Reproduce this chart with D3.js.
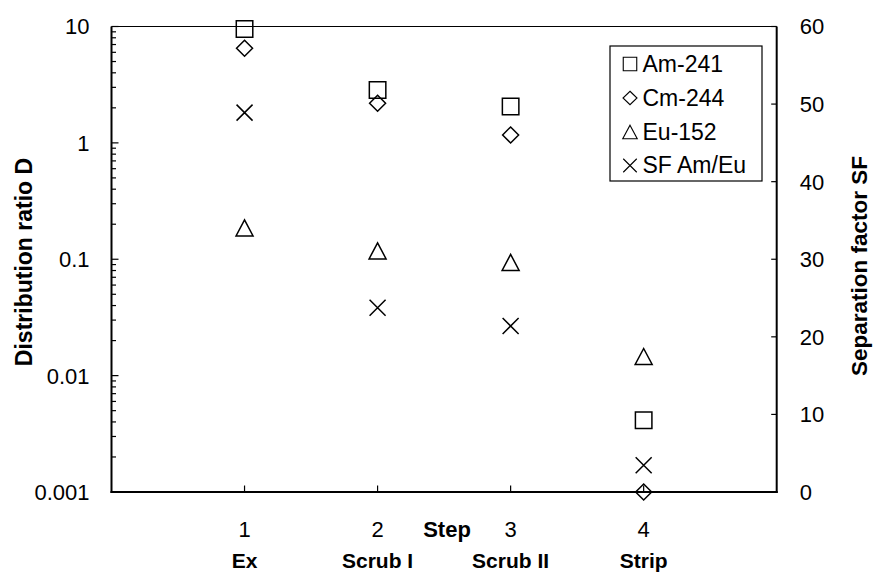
<!DOCTYPE html>
<html><head><meta charset="utf-8">
<script src="https://cdn.jsdelivr.net/npm/d3@7"></script>
<style>
body{margin:0;background:#fff;}
svg text{font-family:"Liberation Sans",Arial,sans-serif;fill:#000;}
</style></head>
<body><svg id="c" width="875" height="574"></svg>
<script>
const steps = [1, 2, 3, 4];
const stepNames = ["Ex", "Scrub I", "Scrub II", "Strip"];
const am241 = [9.5, 2.85, 2.05, 0.00413];
const cm244 = [6.5, 2.19, 1.17, 0.001];
const eu152 = [0.186, 0.118, 0.094, 0.0146];
const sfAmEu = [48.9, 23.75, 21.4, 3.44];
const leftTicks = [0.001, 0.01, 0.1, 1, 10];
const leftTickLabels = ["0.001", "0.01", "0.1", "1", "10"];
const rightTicks = [0, 10, 20, 30, 40, 50, 60];
const legendLabels = ["Am-241", "Cm-244", "Eu-152", "SF Am/Eu"];

const svg = d3.select("#c");
const L = 111.5, R = 776.7, T = 26.5, B = 492;
const x = d3.scaleLinear().domain([0, 5]).range([L, R]);
const yL = d3.scaleLog().domain([0.001, 10]).range([B, T]);
const yR = d3.scaleLinear().domain([0, 60]).range([B, T]);

// top border
svg.append("line").attr("x1", L).attr("x2", R).attr("y1", T).attr("y2", T)
  .attr("stroke", "#000").attr("stroke-width", 1.2);

// left axis: minor ticks
const minor = [];
for (let e = -3; e < 1; e++) for (let m = 2; m <= 9; m++) minor.push(m * Math.pow(10, e));
const gL = svg.append("g").attr("transform", `translate(${L},0)`);
gL.selectAll("line.minor").data(minor).join("line").attr("class", "minor")
  .attr("x1", 0).attr("x2", 4.5).attr("y1", d => yL(d)).attr("y2", d => yL(d))
  .attr("stroke", "#000").attr("stroke-width", 1.2);
gL.selectAll("line.major").data(leftTicks).join("line").attr("class", "major")
  .attr("x1", 0).attr("x2", 7).attr("y1", d => yL(d)).attr("y2", d => yL(d))
  .attr("stroke", "#000").attr("stroke-width", 1.2);
gL.append("line").attr("x1", 0).attr("x2", 0).attr("y1", T).attr("y2", B + 1)
  .attr("stroke", "#000").attr("stroke-width", 2);
gL.selectAll("text").data(leftTicks).join("text")
  .attr("x", -22).attr("y", d => yL(d)).attr("dy", "0.36em")
  .attr("text-anchor", "end").attr("font-size", 22)
  .text((d, i) => leftTickLabels[i]);

// right axis
const gR = svg.append("g").attr("transform", `translate(${R},0)`);
gR.selectAll("line.t").data(rightTicks).join("line").attr("class", "t")
  .attr("x1", 0).attr("x2", -5.5).attr("y1", d => yR(d)).attr("y2", d => yR(d))
  .attr("stroke", "#000").attr("stroke-width", 1.2);
gR.append("line").attr("x1", 0).attr("x2", 0).attr("y1", T).attr("y2", B + 1)
  .attr("stroke", "#000").attr("stroke-width", 2);
gR.selectAll("text").data(rightTicks).join("text")
  .attr("x", 23).attr("y", d => yR(d)).attr("dy", "0.36em")
  .attr("text-anchor", "start").attr("font-size", 22)
  .text(d => d);

// bottom axis
const gB = svg.append("g");
gB.selectAll("line.t").data(steps).join("line").attr("class", "t")
  .attr("x1", d => x(d)).attr("x2", d => x(d)).attr("y1", B).attr("y2", B - 6.5)
  .attr("stroke", "#000").attr("stroke-width", 1.2);
gB.append("line").attr("x1", L - 1).attr("x2", R + 1).attr("y1", B).attr("y2", B)
  .attr("stroke", "#000").attr("stroke-width", 2);
gB.selectAll("text.num").data(steps).join("text").attr("class", "num")
  .attr("x", d => x(d)).attr("y", 537).attr("text-anchor", "middle")
  .attr("font-size", 22).text(d => d);
gB.selectAll("text.cat").data(stepNames).join("text").attr("class", "cat")
  .attr("x", (d, i) => x(steps[i])).attr("y", 568).attr("text-anchor", "middle")
  .attr("font-size", 21).attr("font-weight", "bold").text(d => d);
svg.append("text").attr("x", 447).attr("y", 537).attr("text-anchor", "middle")
  .attr("font-size", 22).attr("font-weight", "bold").text("Step");

// axis titles
svg.append("text").attr("transform", `translate(32,262) rotate(-90)`)
  .attr("text-anchor", "middle").attr("font-size", 23).attr("font-weight", "bold")
  .text("Distribution ratio D");
svg.append("text").attr("transform", `translate(867,266) rotate(-90)`)
  .attr("text-anchor", "middle").attr("font-size", 22.5).attr("font-weight", "bold")
  .text("Separation factor SF");

// marker shapes
function square(s) { const h = s / 2; return `M${-h},${-h}H${h}V${h}H${-h}Z`; }
function diamond(w, h) { return `M0,${-h/2}L${w/2},0L0,${h/2}L${-w/2},0Z`; }
function triangle(w, h) { return `M0,${-h/2}L${w/2},${h/2}H${-w/2}Z`; }
function cross(s) { const h = s / 2; return `M${-h},${-h}L${h},${h}M${-h},${h}L${h},${-h}`; }

const plot = svg.append("g").attr("fill", "none").attr("stroke", "#000").attr("stroke-width", 1.5);
function drawSeries(vals, yScale, path) {
  plot.append("g").selectAll("path").data(vals).join("path")
    .attr("transform", (d, i) => `translate(${x(steps[i])},${yScale(d)})`)
    .attr("d", path);
}
drawSeries(eu152, yL, triangle(17, 16));
drawSeries(am241, yL, square(16.5));
drawSeries(cm244, yL, diamond(16, 16));
drawSeries(sfAmEu, yR, cross(16));

// legend
const lg = svg.append("g");
lg.append("rect").attr("x", 610).attr("y", 46).attr("width", 152).attr("height", 135)
  .attr("fill", "#fff").attr("stroke", "#000").attr("stroke-width", 1.2);
const legendShapes = [square(13.5), diamond(14, 13.5), triangle(14.5, 13.5), cross(13.5)];
const lgY = [64, 98, 132, 165.5];
legendLabels.forEach((lab, i) => {
  lg.append("path").attr("transform", `translate(630,${lgY[i]})`).attr("d", legendShapes[i])
    .attr("fill", "none").attr("stroke", "#000").attr("stroke-width", 1.1);
  lg.append("text").attr("x", 642.5).attr("y", lgY[i] + 7.8).attr("font-size", 23)
    .text(lab);
});
</script></body></html>
